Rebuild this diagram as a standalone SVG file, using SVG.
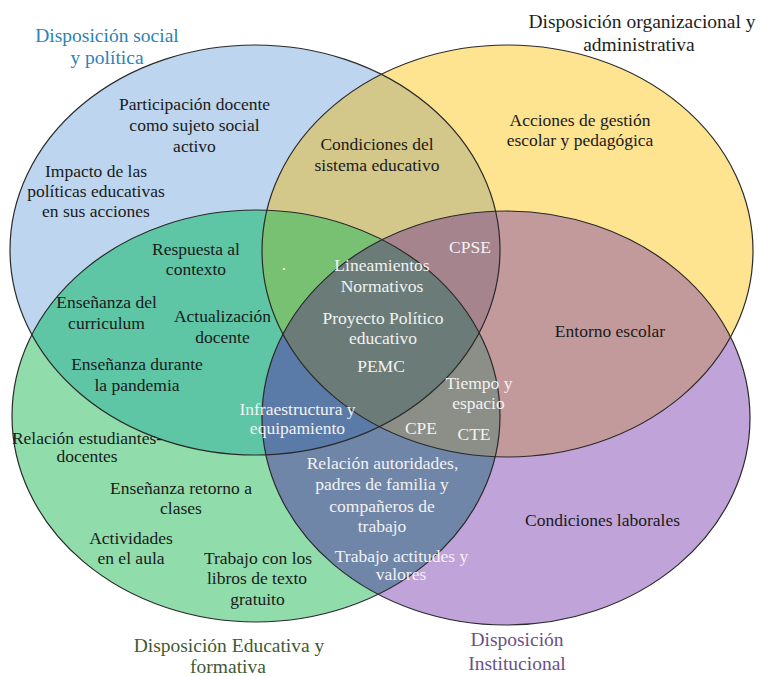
<svg xmlns="http://www.w3.org/2000/svg" width="761" height="676" viewBox="0 0 761 676">
<defs>
<ellipse id="B" cx="255" cy="250" rx="245" ry="205"/>
<ellipse id="Y" cx="507.5" cy="251" rx="245.5" ry="206"/>
<ellipse id="G" cx="256" cy="416" rx="244" ry="206"/>
<ellipse id="P" cx="506" cy="418" rx="244" ry="207"/>
<clipPath id="cB"><use href="#B"/></clipPath>
<clipPath id="cY"><use href="#Y"/></clipPath>
<clipPath id="cG"><use href="#G"/></clipPath>
</defs>
<rect width="761" height="676" fill="#ffffff"/>
<g id="fills">
<use href="#B" fill="#bdd5ee"/>
<use href="#Y" fill="#fee391"/>
<use href="#G" fill="#90dcab"/>
<use href="#P" fill="#c0a3d8"/>
<g clip-path="url(#cB)"><use href="#Y" fill="#d4c78a"/></g>
<g clip-path="url(#cB)"><use href="#G" fill="#5ec6a5"/></g>
<g clip-path="url(#cY)"><use href="#P" fill="#c39a9c"/></g>
<g clip-path="url(#cG)"><use href="#P" fill="#6f86a9"/></g>
<g clip-path="url(#cB)"><g clip-path="url(#cY)"><use href="#G" fill="#78c172"/></g></g>
<g clip-path="url(#cB)"><g clip-path="url(#cY)"><use href="#P" fill="#a6848e"/></g></g>
<g clip-path="url(#cB)"><g clip-path="url(#cG)"><use href="#P" fill="#5a7aa8"/></g></g>
<g clip-path="url(#cY)"><g clip-path="url(#cG)"><use href="#P" fill="#8b8f88"/></g></g>
<g clip-path="url(#cB)"><g clip-path="url(#cY)"><g clip-path="url(#cG)"><use href="#P" fill="#6b7c78"/></g></g></g>
</g>
<g id="outlines" fill="none" stroke="#2a2a2a" stroke-width="1.2">
<use href="#B"/>
<use href="#Y"/>
<use href="#G"/>
<use href="#P"/>
</g>
<g id="labels" font-family="'Liberation Serif', 'Times New Roman', Times, serif" text-anchor="middle" style="font-family:'Liberation Serif','Times New Roman',Times,serif">
<g id="node-social" font-size="17.5" fill="#1a1a1a">
<text font-size="19.5" fill="#2b83b6" x="107" y="42">Disposición social</text>
<text font-size="19.5" fill="#2b83b6" x="107" y="64">y política</text>
<text x="194.5" y="110">Participación docente</text>
<text x="194.5" y="131">como sujeto social</text>
<text x="194.5" y="152">activo</text>
<text x="96" y="176.5">Impacto de las</text>
<text x="96" y="196.5">políticas educativas</text>
<text x="96" y="217">en sus acciones</text>
</g>
<g id="node-organizacional" font-size="17.5" fill="#1a1a1a">
<text font-size="19.5" fill="#1e1e1e" x="642" y="28">Disposición organizacional y</text>
<text font-size="19.5" fill="#1e1e1e" x="639" y="51">administrativa</text>
<text x="580" y="125.5">Acciones de gestión</text>
<text x="580" y="146">escolar y pedagógica</text>
</g>
<g id="node-social-organizacional" font-size="17.5" fill="#1a1a1a">
<text x="377" y="150">Condiciones del</text>
<text x="377" y="171">sistema educativo</text>
</g>
<g id="node-social-educativa" font-size="17.5" fill="#1a1a1a">
<text x="196" y="254.5">Respuesta al</text>
<text x="196" y="275">contexto</text>
<text x="106.5" y="308">Enseñanza del</text>
<text x="106.5" y="329">curriculum</text>
<text x="222.5" y="321.5">Actualización</text>
<text x="222.5" y="342.5">docente</text>
<text x="137" y="370">Enseñanza durante</text>
<text x="137" y="390.5">la pandemia</text>
</g>
<g id="node-dot" font-size="17.5" fill="#f2f2f2">
<text x="284" y="270">.</text>
</g>
<g id="node-centro" font-size="17.5" fill="#f2f2f2">
<text x="382" y="271">Lineamientos</text>
<text x="382" y="291.5">Normativos</text>
<text x="383" y="323.5">Proyecto Político</text>
<text x="383" y="343.5">educativo</text>
<text x="381" y="371.5">PEMC</text>
</g>
<g id="node-cpse" font-size="17.5" fill="#f2f2f2">
<text x="470" y="252.5">CPSE</text>
</g>
<g id="node-entorno" font-size="17.5" fill="#1a1a1a">
<text x="610" y="336.5">Entorno escolar</text>
</g>
<g id="node-tiempo" font-size="17.5" fill="#f2f2f2">
<text x="479" y="388.5">Tiempo y</text>
<text x="478.5" y="408.5">espacio</text>
<text x="474" y="440">CTE</text>
<text x="421" y="433.5">CPE</text>
</g>
<g id="node-infraestructura" font-size="17.5" fill="#f2f2f2">
<text x="297.5" y="415">Infraestructura y</text>
<text x="297.5" y="434">equipamiento</text>
</g>
<g id="node-educativa" font-size="17.5" fill="#1a1a1a">
<text x="87" y="443.5">Relación estudiantes-</text>
<text x="87" y="462">docentes</text>
<text x="181" y="493.5">Enseñanza retorno a</text>
<text x="181" y="513.5">clases</text>
<text x="131" y="543.5">Actividades</text>
<text x="131" y="563.5">en el aula</text>
<text x="258" y="563.5">Trabajo con los</text>
<text x="257" y="583.5">libros de texto</text>
<text x="257.5" y="605">gratuito</text>
<text font-size="19.5" fill="#3f5a35" x="229" y="652">Disposición Educativa y</text>
<text font-size="19.5" fill="#3f5a35" x="228" y="672.5">formativa</text>
</g>
<g id="node-educativa-institucional" font-size="17.5" fill="#f2f2f2">
<text x="382.5" y="468.5">Relación autoridades,</text>
<text x="382" y="490">padres de familia y</text>
<text x="382" y="511.5">compañeros de</text>
<text x="382" y="531.5">trabajo</text>
<text x="401.5" y="561.5">Trabajo actitudes y</text>
<text x="401" y="580">valores</text>
</g>
<g id="node-institucional" font-size="17.5" fill="#1a1a1a">
<text x="602.5" y="526">Condiciones laborales</text>
<text font-size="19.5" fill="#6a4f8a" x="517" y="646">Disposición</text>
<text font-size="19.5" fill="#6a4f8a" x="517" y="670">Institucional</text>
</g>
</g>
<g id="connectors"/>
</svg>
